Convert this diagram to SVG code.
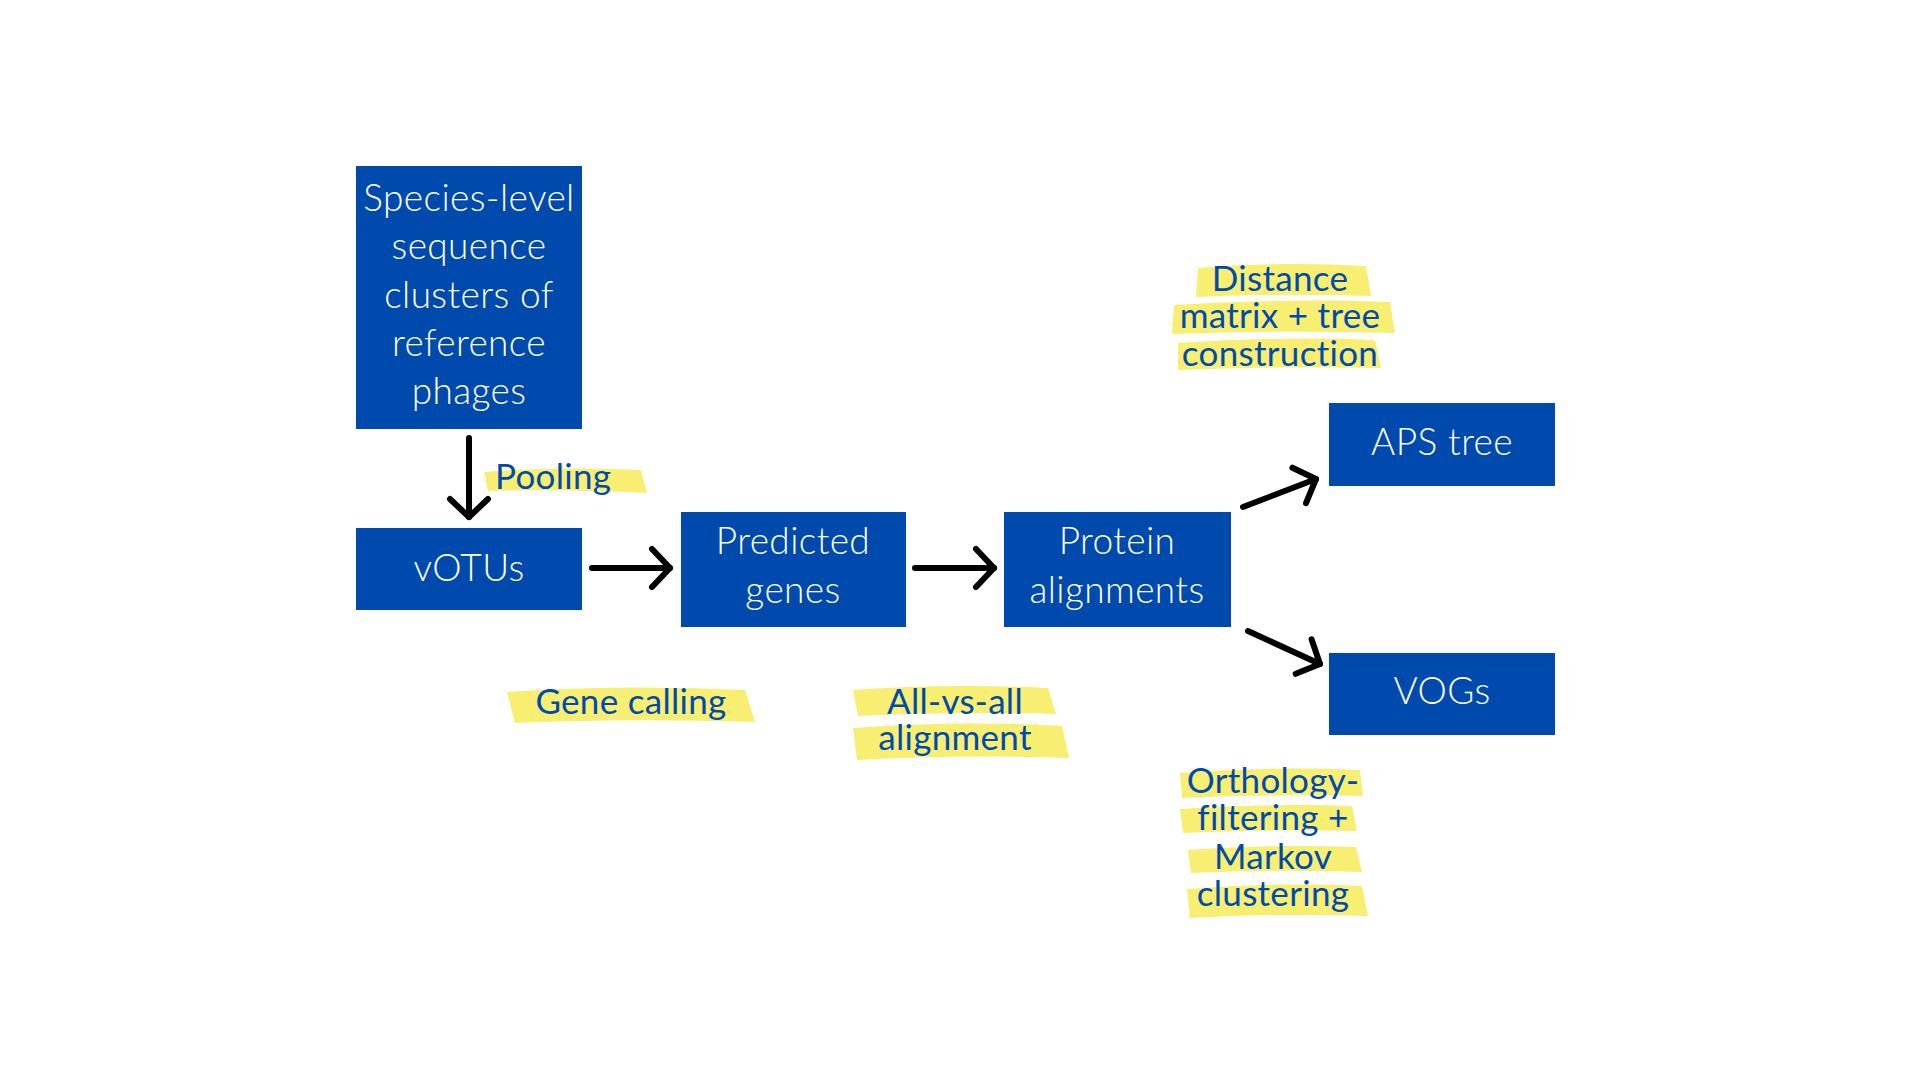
<svg xmlns="http://www.w3.org/2000/svg" width="1920" height="1080" viewBox="0 0 1920 1080">
<style>
.box{fill:#004aad}
.bt{font-family:Lato,"Liberation Sans",sans-serif;font-weight:300;font-size:37px;letter-spacing:0.4px;fill:#ffffff;text-anchor:middle}
.lt{font-family:Lato,"Liberation Sans",sans-serif;font-weight:400;font-size:35px;letter-spacing:0.3px;fill:#004aad;text-anchor:middle}
.hl{fill:#f7ee72}
.ar{fill:none;stroke:#000;stroke-width:6;stroke-linecap:round;stroke-linejoin:round}
</style>
<defs>
<marker id="head" markerUnits="userSpaceOnUse" markerWidth="60" markerHeight="60" viewBox="-30 -30 60 60" refX="0" refY="0" orient="auto" overflow="visible">
<path d="M-18,-19 L0,0 L-18,19" fill="none" stroke="#000" stroke-width="6" stroke-linecap="round" stroke-linejoin="round"/>
</marker>
</defs>
<rect width="1920" height="1080" fill="#ffffff"/>

<g id="connectors">
<line class="ar" x1="469" y1="438" x2="469" y2="517" marker-end="url(#head)"/>
<line class="ar" x1="592" y1="568" x2="670" y2="568" marker-end="url(#head)"/>
<line class="ar" x1="915" y1="568" x2="994" y2="568" marker-end="url(#head)"/>
<line class="ar" x1="1243" y1="507" x2="1316" y2="479" marker-end="url(#head)"/>
<line class="ar" x1="1248" y1="631" x2="1320" y2="664" marker-end="url(#head)"/>
</g>

<g id="node-species">
<rect class="box" x="356" y="166" width="226" height="263"/>
<text class="bt" x="469" y="211">Species-level</text>
<text class="bt" x="469" y="259">sequence</text>
<text class="bt" x="469" y="308">clusters of</text>
<text class="bt" x="469" y="356">reference</text>
<text class="bt" x="469" y="404">phages</text>
</g>

<g id="node-votus">
<rect class="box" x="356" y="528" width="226" height="82"/>
<text class="bt" x="469" y="581">vOTUs</text>
</g>

<g id="node-predicted">
<rect class="box" x="681" y="512" width="225" height="115"/>
<text class="bt" x="793" y="554">Predicted</text>
<text class="bt" x="793" y="603">genes</text>
</g>

<g id="node-protein">
<rect class="box" x="1004" y="512" width="227" height="115"/>
<text class="bt" x="1117" y="554">Protein</text>
<text class="bt" x="1117" y="603">alignments</text>
</g>

<g id="node-aps">
<rect class="box" x="1329" y="403" width="226" height="83"/>
<text class="bt" x="1442" y="455">APS tree</text>
</g>

<g id="node-vogs">
<rect class="box" x="1329" y="653" width="226" height="82"/>
<text class="bt" x="1442" y="704">VOGs</text>
</g>

<g id="label-pooling">
<path class="hl" d="M484,472 Q560,466 641,470 L647,493 Q565,489 488,491 Z"/>
<text class="lt" x="495" y="489" style="text-anchor:start">Pooling</text>
</g>

<g id="label-gene-calling">
<path class="hl" d="M507,692 Q620,684 745,690 L755,722 Q630,718 515,723 Z"/>
<text class="lt" x="631" y="714">Gene calling</text>
</g>

<g id="label-all-vs-all">
<path class="hl" d="M853,690 Q950,683 1048,688 L1056,714 Q955,711 858,716 Z"/>
<path class="hl" d="M853,728 Q960,720 1062,726 L1069,758 Q960,754 857,760 Z"/>
<text class="lt" x="955" y="714">All-vs-all</text>
<text class="lt" x="955" y="750">alignment</text>
</g>

<g id="label-distance">
<path class="hl" d="M1198,268 Q1280,261 1366,266 L1371,296 Q1285,293 1196,297 Z"/>
<path class="hl" d="M1174,305 Q1280,298 1390,302 L1395,333 Q1285,330 1172,334 Z"/>
<path class="hl" d="M1178,343 Q1280,336 1375,340 L1381,368 Q1280,366 1178,370 Z"/>
<text class="lt" x="1280" y="291">Distance</text>
<text class="lt" x="1280" y="328">matrix + tree</text>
<text class="lt" x="1280" y="366">construction</text>
</g>

<g id="label-orthology">
<path class="hl" d="M1180,773 Q1270,766 1360,770 L1363,796 Q1270,794 1182,798 Z"/>
<path class="hl" d="M1180,809 Q1270,803 1352,806 L1357,831 Q1270,829 1183,833 Z"/>
<path class="hl" d="M1188,850 Q1275,844 1356,847 L1362,872 Q1275,869 1191,873 Z"/>
<path class="hl" d="M1187,889 Q1275,882 1362,886 L1368,916 Q1275,913 1190,918 Z"/>
<text class="lt" x="1273" y="793">Orthology-</text>
<text class="lt" x="1273" y="830">filtering +</text>
<text class="lt" x="1273" y="869">Markov</text>
<text class="lt" x="1273" y="906">clustering</text>
</g>
</svg>
